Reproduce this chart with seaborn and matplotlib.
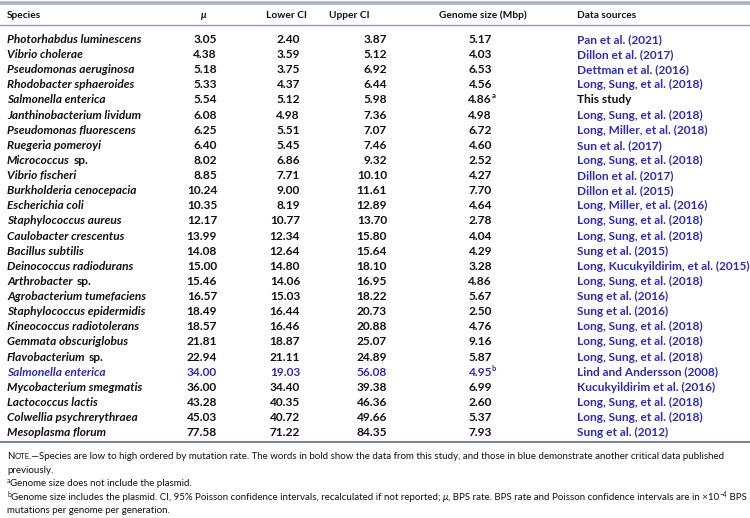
import matplotlib
matplotlib.use("Agg")
import matplotlib.pyplot as plt
import seaborn as sns

sns.set_theme(style="white")
plt.rcParams['font.family'] = ['Lato', 'DejaVu Sans']

# ---- table data ----
species = [
    "Photorhabdus luminescens", "Vibrio cholerae", "Pseudomonas aeruginosa",
    "Rhodobacter sphaeroides", "Salmonella enterica", "Janthinobacterium lividum",
    "Pseudomonas fluorescens", "Ruegeria pomeroyi", "Micrococcus sp.",
    "Vibrio fischeri", "Burkholderia cenocepacia", "Escherichia coli",
    "Staphylococcus aureus", "Caulobacter crescentus", "Bacillus subtilis",
    "Deinococcus radiodurans", "Arthrobacter sp.", "Agrobacterium tumefaciens",
    "Staphylococcus epidermidis", "Kineococcus radiotolerans", "Gemmata obscuriglobus",
    "Flavobacterium sp.", "Salmonella enterica", "Mycobacterium smegmatis",
    "Lactococcus lactis", "Colwellia psychrerythraea", "Mesoplasma florum",
]
mu = [3.05, 4.38, 5.18, 5.33, 5.54, 6.08, 6.25, 6.40, 8.02, 8.85, 10.24, 10.35,
      12.17, 13.99, 14.08, 15.00, 15.46, 16.57, 18.49, 18.57, 21.81, 22.94,
      34.00, 36.00, 43.28, 45.03, 77.58]
lower_ci = [2.40, 3.59, 3.75, 4.37, 5.12, 4.98, 5.51, 5.45, 6.86, 7.71, 9.00, 8.19,
            10.77, 12.34, 12.64, 14.80, 14.06, 15.03, 16.44, 16.46, 18.87, 21.11,
            19.03, 34.40, 40.35, 40.72, 71.22]
upper_ci = [3.87, 5.12, 6.92, 6.44, 5.98, 7.36, 7.07, 7.46, 9.32, 10.10, 11.61, 12.89,
            13.70, 15.80, 15.64, 18.10, 16.95, 18.22, 20.73, 20.88, 25.07, 24.89,
            56.08, 39.38, 46.36, 49.66, 84.35]
genome_size = [5.17, 4.03, 6.53, 4.56, 4.86, 4.98, 6.72, 4.60, 2.52, 4.27, 7.70, 4.64,
               2.78, 4.04, 4.29, 3.28, 4.86, 5.67, 2.50, 4.76, 9.16, 5.87,
               4.95, 6.99, 2.60, 5.37, 7.93]
genome_note = {4: "a", 22: "b"}
sources = [
    "Pan et al. (2021)", "Dillon et al. (2017)", "Dettman et al. (2016)",
    "Long, Sung, et al. (2018)", "This study", "Long, Sung, et al. (2018)",
    "Long, Miller, et al. (2018)", "Sun et al. (2017)", "Long, Sung, et al. (2018)",
    "Dillon et al. (2017)", "Dillon et al. (2015)", "Long, Miller, et al. (2016)",
    "Long, Sung, et al. (2018)", "Long, Sung, et al. (2018)", "Sung et al. (2015)",
    "Long, Kucukyildirim, et al. (2015)", "Long, Sung, et al. (2018)", "Sung et al. (2016)",
    "Sung et al. (2016)", "Long, Sung, et al. (2018)", "Long, Sung, et al. (2018)",
    "Long, Sung, et al. (2018)", "Lind and Andersson (2008)", "Kucukyildirim et al. (2016)",
    "Long, Sung, et al. (2018)", "Long, Sung, et al. (2018)", "Sung et al. (2012)",
]
this_study_row = 4
blue_row = 22

BLUE = "#2b2bc4"
BLACK = "#111111"

fig = plt.figure(figsize=(7.5, 5.18), dpi=100)
ax = fig.add_axes([0, 0, 1, 1])
ax.set_xlim(0, 750)
ax.set_ylim(518, 0)
ax.axis("off")
renderer = fig.canvas.get_renderer()


def put_runs(x, y, runs):
    """Draw consecutive text pieces, each with own style, left to right."""
    for txt, props in runs:
        props = dict(props)
        dy = props.pop("dy", 0)
        dx = props.pop("dx", 0)
        x += dx
        t = ax.text(x, y + dy, txt, ha="left", va="baseline", **props)
        bb = t.get_window_extent(renderer)
        x += bb.width
    return x


# rules
ax.axhline(3, color="#aab2c6", lw=2.6)
ax.axhline(25, color="#8e9aba", lw=1.0)
ax.axhline(442, color="#5b6a9a", lw=1.2)

# header
hdr = dict(fontsize=7.3, fontweight="bold", color=BLACK, va="baseline")
hy = 18
ax.text(7, hy, "Species", ha="left", **hdr)
ax.text(204, hy, "\u03bc", ha="center", style="italic", **hdr)
ax.text(287, hy, "Lower CI", ha="center", **hdr)
ax.text(349, hy, "Upper CI", ha="center", **hdr)
ax.text(483, hy, "Genome size (Mbp)", ha="center", **hdr)
ax.text(577, hy, "Data sources", ha="left", **hdr)

# rows
fs = 8.6
y0, dy_row = 43, 15.12
for i, name in enumerate(species):
    y = y0 + i * dy_row
    col = BLUE if i == blue_row else BLACK
    base = dict(fontsize=fs, fontweight="bold", color=col)
    if name.endswith(" sp."):
        put_runs(7, y, [(name[:-4], dict(base, style="italic")), ("sp.", dict(base, dx=3.6))])
    else:
        ax.text(7, y, name, ha="left", va="baseline", style="italic", **base)
    ax.text(217, y, f"{mu[i]:.2f}", ha="right", va="baseline", **base)
    ax.text(300, y, f"{lower_ci[i]:.2f}", ha="right", va="baseline", **base)
    ax.text(387, y, f"{upper_ci[i]:.2f}", ha="right", va="baseline", **base)
    ax.text(492, y, f"{genome_size[i]:.2f}", ha="right", va="baseline", **base)
    if i in genome_note:
        ax.text(491.5, y - 5, genome_note[i], ha="left", va="baseline",
                fontsize=5.5, fontweight="bold", color=col)
    src_col = BLACK if i == this_study_row else BLUE
    ax.text(577, y, sources[i], ha="left", va="baseline",
            fontsize=fs, fontweight="bold", color=src_col)

# notes
nf = 7.05
reg = dict(fontsize=nf, color=BLACK)
sc = dict(fontsize=nf * 0.78, color=BLACK)
sup = dict(reg, fontsize=4.8, dy=-3.3)
put_runs(7, 459, [("N", reg), ("OTE", sc),
                  (".\u2014Species are low to high ordered by mutation rate. The words in bold show the data "
                   "from this study, and those in blue demonstrate another critical data published", reg)])
put_runs(7, 473, [("previously.", reg)])
put_runs(7, 486, [("a", sup), ("Genome size does not include the plasmid.", reg)])
put_runs(7, 500, [("b", sup),
                  ("Genome size includes the plasmid. CI, 95% Poisson confidence intervals, recalculated "
                   "if not reported; ", reg),
                  ("\u03bc", dict(reg, style="italic")),
                  (", BPS rate. BPS rate and Poisson confidence intervals are in \u00d710", reg),
                  ("\u22124", sup),
                  (" BPS", reg)])
put_runs(7, 513, [("mutations per genome per generation.", reg)])

fig.savefig("out.png", dpi=100, facecolor="white")
